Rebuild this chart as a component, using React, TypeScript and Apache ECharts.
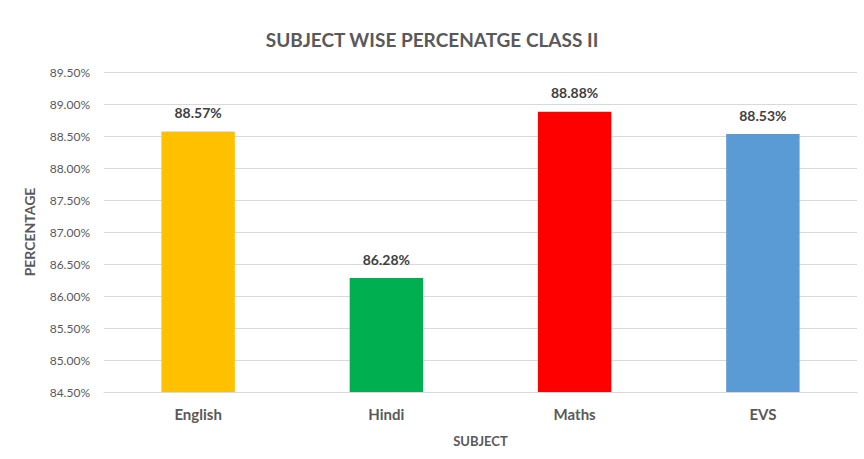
import React, { useEffect, useRef } from "react";
import * as echarts from "echarts";

const subjects = ["English", "Hindi", "Maths", "EVS"];
const percentages = [88.57, 86.28, 88.88, 88.53];
const barColors = ["#FFC000", "#00B050", "#FF0000", "#5B9BD5"];
const yMin = 84.5;
const yMax = 89.5;
const yStep = 0.5;

const FONT = "Lato, 'Open Sans', sans-serif";

export default function App() {
  const ref = useRef<HTMLDivElement>(null);
  useEffect(() => {
    if (!ref.current) return;
    const chart = echarts.init(ref.current, undefined, { renderer: "svg" });
    chart.setOption({
      animation: false,
      backgroundColor: "#ffffff",
      textStyle: { fontFamily: FONT },
      title: {
        text: "SUBJECT WISE PERCENATGE CLASS II",
        left: "center",
        top: 25,
        textStyle: { fontFamily: FONT, fontSize: 19, fontWeight: "bold", color: "#595959" },
      },
      grid: { left: 104, right: 7, top: 72, bottom: 67, containLabel: false },
      xAxis: {
        type: "category",
        data: subjects,
        name: "SUBJECT",
        nameLocation: "middle",
        nameGap: 42,
        nameTextStyle: { fontFamily: FONT, fontSize: 13, fontWeight: "bold", color: "#595959" },
        axisLine: { show: true, lineStyle: { color: "#D9D9D9" } },
        axisTick: { show: false },
        axisLabel: { margin: 14, fontFamily: FONT, fontSize: 15, fontWeight: "bold", color: "#595959" },
      },
      yAxis: {
        type: "value",
        min: yMin,
        max: yMax,
        interval: yStep,
        name: "PERCENTAGE",
        nameLocation: "middle",
        nameGap: 68,
        nameTextStyle: { fontFamily: FONT, fontSize: 14, fontWeight: "bold", color: "#595959" },
        axisLine: { show: false },
        axisTick: { show: false },
        splitLine: { lineStyle: { color: "#D9D9D9" } },
        axisLabel: {
          margin: 14,
          fontFamily: FONT,
          fontSize: 12,
          color: "#595959",
          formatter: (v: number) => v.toFixed(2) + "%",
        },
      },
      series: [
        {
          type: "bar",
          barWidth: "39%",
          data: percentages.map((v, i) => ({ value: v, itemStyle: { color: barColors[i] } })),
          label: {
            show: true,
            position: "top",
            distance: 12,
            fontFamily: FONT,
            fontSize: 14,
            fontWeight: "bold",
            color: "#404040",
            formatter: (p: any) => p.value.toFixed(2) + "%",
          },
        },
      ],
    });
    return () => chart.dispose();
  }, []);
  return <div ref={ref} style={{ width: 864, height: 459, position: "absolute", left: 0, top: 0 }} />;
}
